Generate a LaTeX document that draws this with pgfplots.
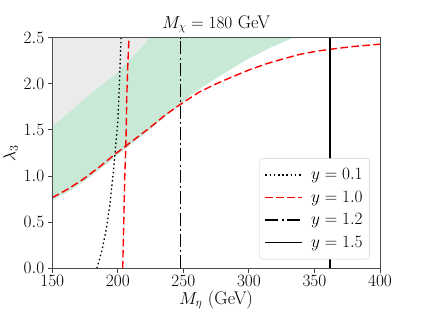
\documentclass[border=0pt]{standalone}
\usepackage{pgfplots}
\pgfplotsset{compat=1.18}
\definecolor{regGray}{RGB}{235,235,235}
\definecolor{regGreen}{RGB}{199,233,213}
\definecolor{mplred}{RGB}{255,0,0}
\begin{document}
\begin{tikzpicture}
\useasboundingbox (-52.3pt,-48.7pt) rectangle (369.7pt,268.3pt);
\begin{axis}[
  scale only axis,
  width=327.7pt, height=230.6pt,
  xmin=150, xmax=400, ymin=0, ymax=2.5,
  xtick={150,200,250,300,350,400},
  ytick={0,0.5,1,1.5,2,2.5},
  yticklabel style={/pgf/number format/.cd, fixed, fixed zerofill, precision=1},
  xtick pos=left, ytick pos=left,
  tick align=outside,
  major tick length=4.5pt,
  every tick/.style={black!75, line width=0.9pt},
  axis line style={black!70, line width=0.9pt},
  ticklabel style={font=\fontsize{18.3}{21}\selectfont},
  label style={font=\fontsize{18.3}{21}\selectfont},
  title style={font=\fontsize{18.3}{21}\selectfont, yshift=-5pt},
  title={$M_\chi = 180$ GeV},
  xlabel={$M_\eta$ (GeV)},
  ylabel={$\lambda_3$},
  xlabel style={yshift=3pt},
  ylabel style={yshift=-1pt},
  xticklabel style={yshift=1pt},
  legend style={at={(0.969,0.039)}, anchor=south east, draw=black!20, rounded corners=3pt,
    fill=white, font=\fontsize{17.5}{20}\selectfont, inner xsep=5pt, inner ysep=8pt,
    row sep=6pt, /tikz/every odd column/.append style={column sep=6pt}},
  legend cell align=left,
  legend image code/.code={\draw[#1] (0pt,0pt) -- (37pt,0pt);},
  axis on top,
]
% excluded region (gray)
\addplot[fill=regGray, draw=none, forget plot] coordinates {
(150,1.54) (162,1.68) (174,1.83) (186,1.97) (199,2.115) (212,2.3) (224.5,2.5) (150,2.5)} -- cycle;
% allowed band (green)
\addplot[fill=regGreen, draw=none, forget plot] coordinates {
(150,1.54) (162,1.68) (174,1.83) (186,1.97) (199,2.115) (212,2.3) (224.5,2.5)
(334,2.5) (316,2.39) (298,2.26) (282,2.12) (265,1.97) (256,1.88) (248,1.78)
(236,1.645) (224,1.5) (212,1.365) (199,1.22) (186,1.07) (174,0.94) (162,0.83) (150,0.735)} -- cycle;
% y = 0.1
\addplot[black, line width=1.3pt, dash pattern=on 1.5pt off 2.7pt] coordinates {
(184,0) (188,0.2) (191.5,0.45) (194,0.7) (196.6,1.05) (198.5,1.35) (200,1.6) (200.8,1.86) (201.7,2.2) (202.5,2.5)};
\addlegendentry{$y = 0.1$}
% y = 1.0
\addplot[mplred, line width=1.4pt, dash pattern=on 7.5pt off 3.5pt] coordinates {
(150,0.766) (162,0.86) (174,0.97) (186,1.10) (199,1.25) (212,1.39) (224,1.52) (236,1.66)
(248,1.78) (262,1.91) (275,2.00) (288,2.08) (300,2.15) (314,2.22) (326,2.27) (339,2.32)
(352,2.355) (365,2.38) (380,2.405) (400,2.43)};
\addlegendentry{$y = 1.0$}
\addplot[mplred, line width=1.4pt, dash pattern=on 7.5pt off 3.5pt, forget plot] coordinates {
(203.7,0) (204.5,0.5) (205.3,1.0) (206,1.28) (206.4,1.5) (206.8,1.86) (207.6,2.2) (208.5,2.5)};
% y = 1.2
\addplot[black, line width=1.4pt, dash pattern=on 13pt off 3.2pt on 2pt off 3.2pt] coordinates {
(248,0) (248,2.5)};
\addlegendentry{$y = 1.2$}
% y = 1.5
\addplot[black, line width=1.4pt] coordinates {(362,0) (362,2.5)};
\addlegendentry{$y = 1.5$}
\end{axis}
\end{tikzpicture}
\end{document}
